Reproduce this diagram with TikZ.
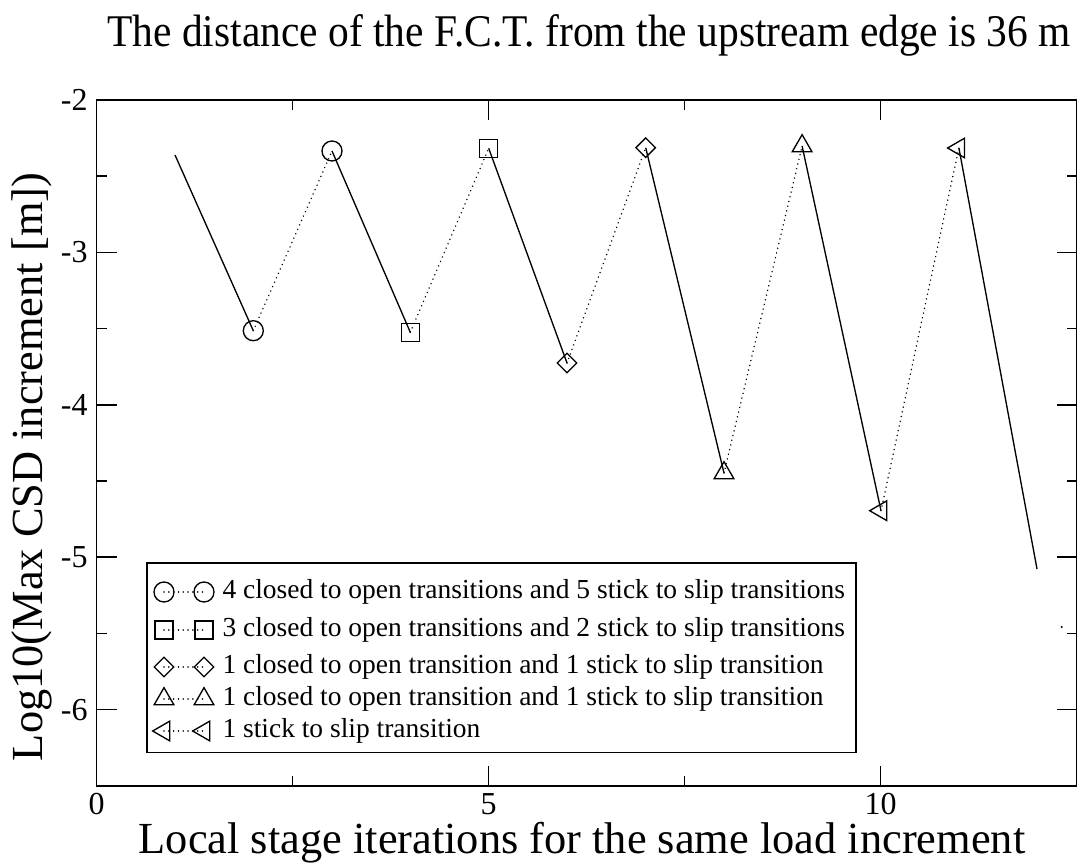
\documentclass[tikz,border=0pt]{standalone}
\usepackage{fontspec}
\setmainfont{Liberation Serif}
\usetikzlibrary{shapes.geometric}

\tikzset{every picture/.style={line width=0.75pt}}
\tikzset{
  mk/.style={draw, line width=1pt, inner sep=0pt},
  mkcirc/.style={mk, circle, minimum size=15pt},
  mksq/.style={mk, rectangle, minimum size=13.5pt},
  mkdia/.style={mk, diamond, minimum size=15pt},
  mktri/.style={mk, regular polygon, regular polygon sides=3, minimum size=17pt},
  mkltri/.style={mktri, shape border rotate=90},
  solidseg/.style={line width=1pt},
  dotseg/.style={line width=1.2pt, dash pattern=on 0.01pt off 3.6pt, line cap=round},
  ticklab/.style={font=\fontsize{24}{28}\selectfont, inner sep=0.75pt},
  legtext/.style={font=\fontsize{20.6}{24}\selectfont, anchor=west, inner sep=0.75pt},
  axtitle/.style={font=\fontsize{33.3}{38}\selectfont, inner sep=0pt},
}

\begin{document}
\begin{tikzpicture}[x=0.75pt,y=0.75pt,yscale=-1,xscale=1]
\useasboundingbox (0,0) rectangle (1084,867);

%Frame
\draw [line width=1.2pt] (96.5,100) rectangle (1076.5,785.7) ;
%Ticks x
\foreach \v in {5,10} {
  \draw [line width=1.2pt] ({96.5+78.4*\v},785.7) -- ++(0,-20) ;
  \draw [line width=1.2pt] ({96.5+78.4*\v},100) -- ++(0,20) ;
}
\foreach \v in {2.5,7.5} {
  \draw [line width=1.2pt] ({96.5+78.4*\v},785.7) -- ++(0,-10) ;
  \draw [line width=1.2pt] ({96.5+78.4*\v},100) -- ++(0,10) ;
}
%Ticks y
\foreach \v in {1,2,3,4} {
  \draw [line width=1.2pt] (96.5,{100+152.4*\v}) -- ++(20,0) ;
  \draw [line width=1.2pt] (1076.5,{100+152.4*\v}) -- ++(-20,0) ;
}
\foreach \v in {0.5,1.5,2.5,3.5} {
  \draw [line width=1.2pt] (96.5,{100+152.4*\v}) -- ++(10,0) ;
  \draw [line width=1.2pt] (1076.5,{100+152.4*\v}) -- ++(-10,0) ;
}

% Tick labels
\node [ticklab, anchor=east] (ym2) at (89,100) {-2};
\node [ticklab, anchor=east] (ym3) at (89,252.4) {-3};
\node [ticklab, anchor=east] (ym4) at (89,404.8) {-4};
\node [ticklab, anchor=east] (ym5) at (89,557.2) {-5};
\node [ticklab, anchor=east] (ym6) at (89,709.6) {-6};
\node [ticklab, anchor=north] (x0) at (96.5,792) {0};
\node [ticklab, anchor=north] (x5) at (488.5,792) {5};
\node [ticklab, anchor=north] (x10) at (880.5,792) {10};

% Titles
\node [font=\fontsize{34}{40}\selectfont, inner sep=0pt, xscale=0.915] (title) at (589,35) {The distance of the F.C.T. from the upstream edge is 36 m};
\node [axtitle] (xtitle) at (582,843) {Local stage iterations for the same load increment};
\node [axtitle, rotate=90] (ytitle) at (32,467) {Log10(Max CSD increment [m])};

% Data points
\coordinate (p0) at (175,155);
\coordinate (p12) at (1037,569);
\node [mkcirc] (c1) at (253.3,330.7) {};
\node [mkcirc] (c2) at (332,151) {};
\node [mksq] (s1) at (410.3,332.3) {};
\node [mksq] (s2) at (488.7,148.3) {};
\node [mkdia] (d1) at (567,363) {};
\node [mkdia] (d2) at (645.7,147.7) {};
\node [mktri] (t1) at (724,473) {};
\node [mktri] (t2) at (802.1,146) {};
\node [mkltri] (l1) at (881,510.7) {};
\node [mkltri] (l2) at (958.9,148) {};

% Solid segments
\draw [solidseg] (p0) -- (c1.center) ;
\draw [solidseg] (c2.center) -- (s1.center) ;
\draw [solidseg] (s2.center) -- (d1.center) ;
\draw [solidseg] (d2.center) -- (t1.center) ;
\draw [solidseg] (t2.center) -- (l1.center) ;
\draw [solidseg] (l2.center) -- (p12) ;
% Dotted segments
\draw [dotseg] (c1.center) -- (c2.center) ;
\draw [dotseg] (s1.center) -- (s2.center) ;
\draw [dotseg] (d1.center) -- (d2.center) ;
\draw [dotseg] (t1.center) -- (t2.center) ;
\draw [dotseg] (l1.center) -- (l2.center) ;
\fill (1061.7,627) circle (0.8pt) ;

% Legend
\draw [line width=1.2pt] (147,563) rectangle (856,752.5) ;
\node [mkcirc] (lga) at (164,592) {};
\node [mkcirc] (lgb) at (204,592) {};
\node [mksq] (lgc) at (164,630) {};
\node [mksq] (lgd) at (204,630) {};
\node [mkdia] (lge) at (164,667) {};
\node [mkdia] (lgf) at (204,667) {};
\node [mktri] (lgg) at (164,699) {};
\node [mktri] (lgh) at (204,699) {};
\node [mkltri] (lgi) at (164,731) {};
\node [mkltri] (lgj) at (204,731) {};
\draw [dotseg] (lga.center) -- (lgb.center) ;
\draw [dotseg] (lgc.center) -- (lgd.center) ;
\draw [dotseg] (lge.center) -- (lgf.center) ;
\draw [dotseg] (lgg.center) -- (lgh.center) ;
\draw [dotseg] (lgi.center) -- (lgj.center) ;
\node [legtext] (lta) at (221,592) {4 closed to open transitions and 5 stick to slip transitions};
\node [legtext] (ltb) at (221,630) {3 closed to open transitions and 2 stick to slip transitions};
\node [legtext] (ltc) at (221,667) {1 closed to open transition and 1 stick to slip transition};
\node [legtext] (ltd) at (221,699) {1 closed to open transition and 1 stick to slip transition};
\node [legtext] (lte) at (221,731) {1 stick to slip transition};

\end{tikzpicture}
\end{document}
